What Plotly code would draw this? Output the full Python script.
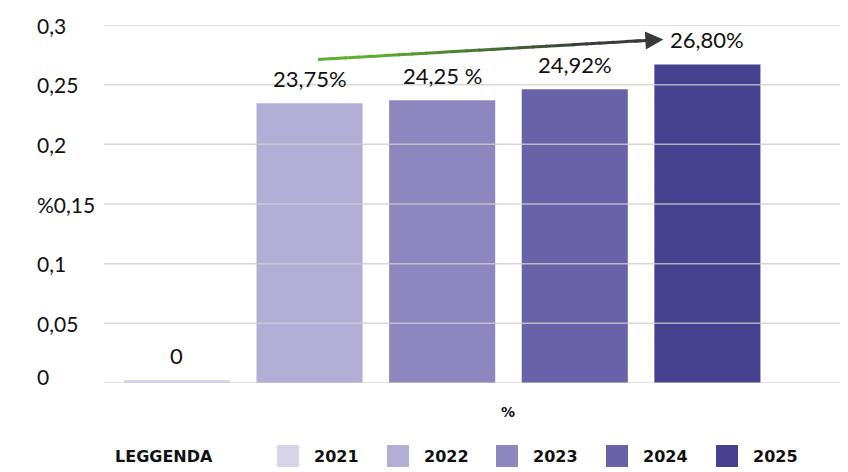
import plotly.graph_objects as go

# ---- data ----
categories = ["2021", "2022", "2023", "2024", "2025"]
values = [0.0025, 0.2345, 0.2370, 0.2462, 0.2670]
value_labels = ["0", "23,75%", "24,25 %", "24,92%", "26,80%"]
colors = ["#d8d4ea", "#b3aed6", "#8e87bf", "#6962a8", "#47418f"]
tick_vals = [0, 0.05, 0.1, 0.15, 0.2, 0.25, 0.3]
tick_text = ["0", "0,05", "0,1", "%0,15", "0,2", "0,25", "0,3"]
x_title = "%"
legend_title = "LEGGENDA"
# trend arrow (data coordinates)
arrow_start = (1.064, 0.2711)
arrow_end = (3.668, 0.2879)

OFF = 8  # page body margin
W, H = 848 - OFF, 472 - OFF
# plot area in page pixels: x 104..840, y 25..383
ML, MT = 104 - OFF, 25 - OFF
MR = (848 - OFF) - (840 - OFF)
MB = H - (383 - OFF)
PW, PH = W - ML - MR, H - MT - MB


def px(x):  # page pixel -> paper
    return (x - OFF - ML) / PW


def py(y):
    return (H - MB - (y - OFF)) / PH


xs = list(range(len(categories)))

fig = go.Figure()
fig.add_trace(go.Bar(
    x=xs, y=values, width=0.8,
    marker=dict(color=colors, line=dict(width=0)),
    showlegend=False, hoverinfo="skip",
))

annotations = []
shapes = []

# y tick labels (left aligned)
for v, t in zip(tick_vals, tick_text):
    annotations.append(dict(
        x=px(35), xref="paper", y=v, yref="y", text=t, showarrow=False,
        xanchor="left", yanchor="middle", yshift=(7 if v == 0 else 0),
        font=dict(family="Lato", size=21, color="#111111"),
    ))
    shapes.append(dict(
        type="line", xref="paper", x0=0, x1=1, yref="y", y0=v, y1=v,
        line=dict(color="#cfcfcf", width=1.5), opacity=0.8, layer="above",
    ))

# value labels
for xi, v, t in zip(xs, values, value_labels):
    annotations.append(dict(
        x=xi, y=v, xref="x", yref="y", text=t, showarrow=False,
        xanchor="center", yanchor="bottom", yshift=9,
        font=dict(family="Lato", size=22, color="#111111"),
    ))

# trend arrow: gradient shaft + head
def lerp(a, b, t):
    return a + (b - a) * t

c0 = (92, 176, 48)
c1 = (58, 58, 58)
n = 24
tail_frac = 0.93
for i in range(n):
    t0 = tail_frac * i / n
    t1 = tail_frac * (i + 1) / n
    tc = min(1.0, max(0.0, (t0 - 0.15) / 0.6))
    col = "rgb(%d,%d,%d)" % tuple(int(lerp(c0[k], c1[k], tc)) for k in range(3))
    shapes.append(dict(
        type="line", xref="x", yref="y",
        x0=lerp(arrow_start[0], arrow_end[0], t0),
        y0=lerp(arrow_start[1], arrow_end[1], t0),
        x1=lerp(arrow_start[0], arrow_end[0], t1 + 0.005),
        y1=lerp(arrow_start[1], arrow_end[1], t1 + 0.005),
        line=dict(color=col, width=3), layer="above",
    ))
annotations.append(dict(
    x=arrow_end[0], y=arrow_end[1], xref="x", yref="y",
    ax=lerp(arrow_start[0], arrow_end[0], tail_frac - 0.02),
    ay=lerp(arrow_start[1], arrow_end[1], tail_frac - 0.02),
    axref="x", ayref="y", text="", showarrow=True,
    arrowhead=2, arrowsize=1.2, arrowwidth=3, arrowcolor="#3a3a3a",
))

# x axis title
annotations.append(dict(
    x=px(508), y=py(412), xref="paper", yref="paper", text="<b>%s</b>" % x_title,
    showarrow=False, xanchor="center", yanchor="middle",
    font=dict(family="DejaVu Sans", size=14, color="#111111"),
))

# manual legend
annotations.append(dict(
    x=px(113), y=py(456), xref="paper", yref="paper", text="<b>%s</b>" % legend_title,
    showarrow=False, xanchor="left", yanchor="middle",
    font=dict(family="DejaVu Sans", size=16, color="#111111"),
))
sq_x0 = [277, 387, 496, 606, 716]
for x0, cat, col in zip(sq_x0, categories, colors):
    shapes.append(dict(
        type="rect", xref="paper", yref="paper",
        x0=px(x0), x1=px(x0 + 22), y0=py(467), y1=py(445),
        fillcolor=col, line=dict(width=0),
    ))
    annotations.append(dict(
        x=px(x0 + 35), y=py(456), xref="paper", yref="paper", text="<b>%s</b>" % cat,
        showarrow=False, xanchor="left", yanchor="middle",
        font=dict(family="DejaVu Sans", size=16, color="#111111"),
    ))

fig.update_layout(
    width=W, height=H,
    margin=dict(l=ML, r=MR, t=MT, b=MB, pad=0),
    paper_bgcolor="white", plot_bgcolor="white",
    bargap=0.2,
    xaxis=dict(range=[-0.55, 5.0], showticklabels=False, showgrid=False,
               zeroline=False, showline=False, ticks="", fixedrange=True),
    yaxis=dict(range=[0, 0.3], showticklabels=False, showgrid=False,
               zeroline=False, showline=False, ticks="", fixedrange=True),
    annotations=annotations,
    shapes=shapes,
    font=dict(family="Lato"),
)

fig.write_html("out.html")
